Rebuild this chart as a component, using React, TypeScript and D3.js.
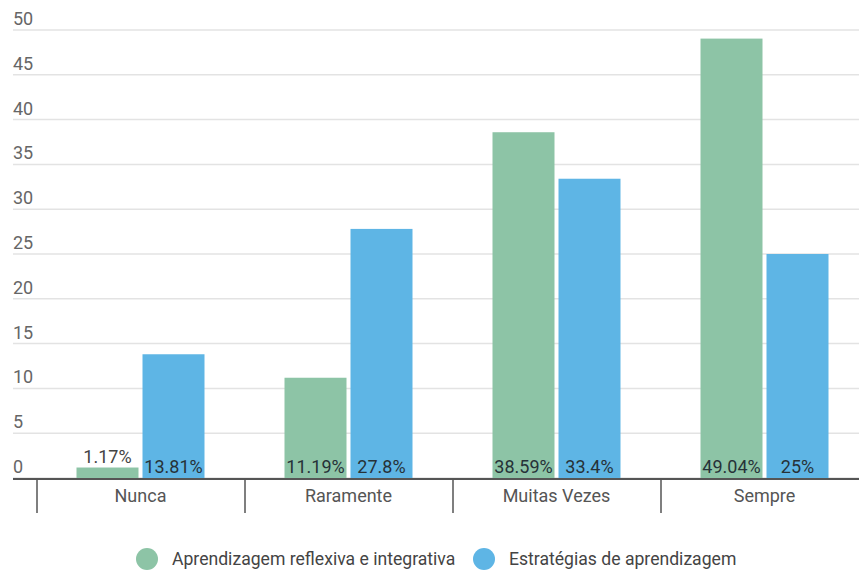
import React from "react";
import * as d3 from "d3";

const categories = ["Nunca", "Raramente", "Muitas Vezes", "Sempre"];
const seriesNames = ["Aprendizagem reflexiva e integrativa", "Estratégias de aprendizagem"];
const reflexiva = [1.17, 11.19, 38.59, 49.04];
const estrategias = [13.81, 27.8, 33.4, 25];
const yTicks = [0, 5, 10, 15, 20, 25, 30, 35, 40, 45, 50];
const colors = ["#8dc4a6", "#5eb5e5"];

const W = 859;
const H = 571;

export default function App() {
  const series = [reflexiva, estrategias];
  const y = d3.scaleLinear().domain([0, 50]).range([478, 30]);
  const x = d3.scaleBand().domain(categories).range([37, 869]).padding(0);
  const barW = 62;
  const gap = 4;
  const font = "Roboto, sans-serif";
  const fs = 18;

  return (
    <svg width={W} height={H} style={{ position: "absolute", left: 0, top: 0, background: "#fff" }}>
      {yTicks.map((t) => (
        <g key={t}>
          <line x1={13} x2={W} y1={y(t)} y2={y(t)} stroke="#e3e3e3" strokeWidth={1.5} />
          <text x={13} y={y(t) - 5} fontFamily={font} fontSize={fs} fill="#666">
            {t}
          </text>
        </g>
      ))}
      {categories.map((c, i) => {
        const cx = x(c)! + x.bandwidth() / 2 - 0.5;
        return (
          <g key={c}>
            {series.map((s, k) => {
              const bx = cx - barW - gap / 2 + k * (barW + gap);
              const v = s[i];
              const top = y(v);
              const h = y(0) - top;
              const label = `${v}%`;
              const inside = h > 20;
              return (
                <g key={k}>
                  <rect x={bx} y={top} width={barW} height={h} fill={colors[k]} />
                  <text
                    x={bx + barW / 2}
                    y={inside ? y(0) - 5 : top - 5}
                    textAnchor="middle"
                    fontFamily={font}
                    fontSize={fs}
                    fill={inside ? "#263238" : "#444"}
                  >
                    {label}
                  </text>
                </g>
              );
            })}
            <text x={cx} y={502} textAnchor="middle" fontFamily={font} fontSize={fs} fill="#555">
              {c}
            </text>
          </g>
        );
      })}
      <line x1={13} x2={W} y1={479} y2={479} stroke="#555" strokeWidth={2} />
      {categories.map((c) => (
        <line key={c} x1={x(c)!} x2={x(c)!} y1={479} y2={513} stroke="#555" strokeWidth={1.5} />
      ))}
      {seriesNames.map((n, k) => {
        const lx = k === 0 ? 147 : 484;
        return (
          <g key={n}>
            <circle cx={lx} cy={559} r={11} fill={colors[k]} />
            <text x={lx + 25} y={565} fontFamily={font} fontSize={17.6} fill="#444">
              {n}
            </text>
          </g>
        );
      })}
    </svg>
  );
}
